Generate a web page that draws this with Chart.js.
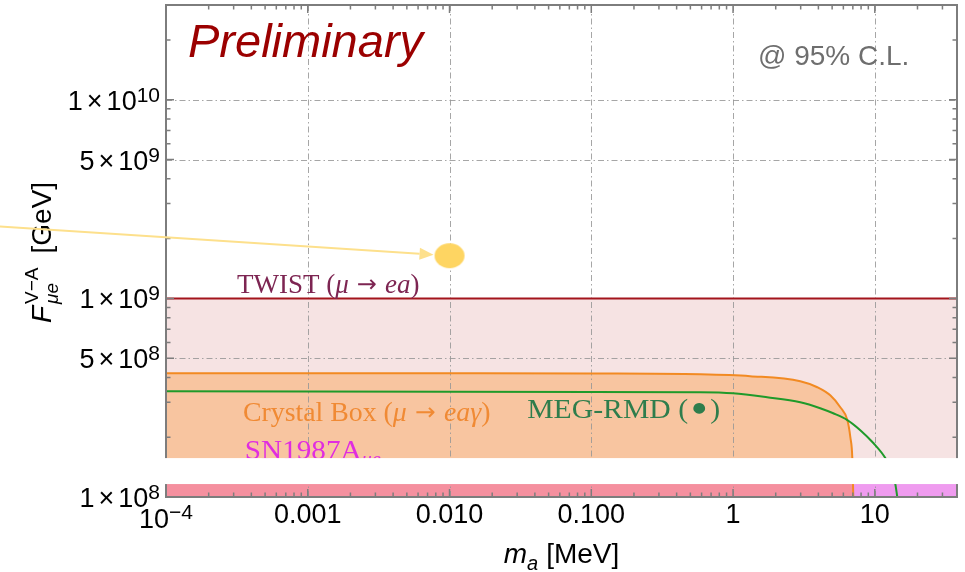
<!DOCTYPE html>
<html>
<head>
<meta charset="utf-8">
<script src="https://cdn.jsdelivr.net/npm/chart.js@4.4.1/dist/chart.umd.min.js"></script>
<style>
  html, body { margin: 0; padding: 0; background: #fff; }
  canvas { display: block; }
</style>
</head>
<body>
<canvas id="c" width="965" height="572"></canvas>
<script>
// Axion mass m_a [MeV] on x, decay constant F_{μe}^{V-A} [GeV] on y
const massRange = [1e-4, 38];
const scaleRange = [1e8, 3e10];

// TWIST (μ → e a) bound
const twistMass = [1e-4, 38];
const twistScale = [1e9, 1e9];

// Crystal Box (μ → e a γ) bound
const crystalMass  = [1e-4, 0.01, 0.1, 0.586, 1.32, 2.98, 3.93, 4.85, 5.71, 6.40, 6.72, 6.94, 7.05];
const crystalScale = [4.2e8, 4.2e8, 4.19e8, 4.15e8, 4.06e8, 3.83e8, 3.57e8, 3.25e8, 2.83e8, 2.44e8, 2.0e8, 1.57e8, 1e8];

// MEG radiative muon decay projection
const megMass  = [1e-4, 0.1, 0.586, 1.0, 1.74, 2.98, 4.12, 5.09, 6.40, 7.90, 9.76, 11.86, 12.8, 13.96, 14.4];
const megScale = [3.41e8, 3.38e8, 3.37e8, 3.33e8, 3.18e8, 3.0e8, 2.8e8, 2.64e8, 2.44e8, 2.17e8, 1.87e8, 1.57e8, 1.40e8, 1.16e8, 1e8];

// SN1987A band (below the crystal-box edge and beyond it)
const snMassInner = [1e-4, 7.05];
const snMassOuter = [7.05, 38];
const snScale = [1.2e8, 1.2e8];

// benchmark point
const benchmarkMass = [0.01];
const benchmarkScale = [1.64e9];

// axis ticks
const xTickValues = [1e-4, 1e-3, 1e-2, 1e-1, 1, 10];
const xTickLabels = [['10', '\u22124'], ['0.001', ''], ['0.010', ''], ['0.100', ''], ['1', ''], ['10', '']];
const yTickValues = [1e8, 5e8, 1e9, 5e9, 1e10];
const yTickMantissa = ['1', '5', '1', '5', '1'];
const yTickExponent = ['8', '8', '9', '9', '10'];

// hidden strip of the broken vertical axis
const axisBreak = [1.162e8, 1.57e8];
// arrow towards the benchmark point, starting left of the axis
const arrowFrom = [6.74e-6, 2.30e9];

// in-plot labels: [mass, scale] of text baseline start
const twistLabelAt = [3.17e-4, 1.07e9];
const crystalLabelAt = [3.49e-4, 2.41e8];
const snLabelAt = [3.6e-4, 1.55e8];
const megLabelAt = [0.0353, 2.49e8];

const pts = (xs, ys) => xs.map((x, i) => ({ x, y: ys[i] }));

const SANS = '"Liberation Sans", Arial, Helvetica, sans-serif';
const SERIF = '"Liberation Serif", "Times New Roman", serif';

// draws a run of differently styled pieces on one baseline; sx stretches horizontally
function rich(ctx, x, y, parts, align, sx) {
  sx = sx || 1;
  let total = 0;
  parts.forEach(p => { ctx.font = p.font; p.w = ctx.measureText(p.t).width; total += p.w + (p.gap || 0); });
  total *= sx;
  let cx = x;
  if (align === 'center') cx = x - total / 2;
  else if (align === 'right') cx = x - total;
  ctx.save();
  ctx.translate(cx, y);
  ctx.scale(sx, 1);
  let ox = 0;
  parts.forEach(p => {
    ctx.font = p.font;
    if (p.color) ctx.fillStyle = p.color;
    ctx.fillText(p.t, ox, p.dy || 0);
    ox += p.w + (p.gap || 0);
  });
  ctx.restore();
  return total;
}

// elliptical marker for the benchmark point
const marker = document.createElement('canvas');
marker.width = 32; marker.height = 27;
(() => {
  const m = marker.getContext('2d');
  m.fillStyle = '#fed562';
  m.beginPath();
  m.ellipse(16, 13.5, 15, 12.5, 0, 0, Math.PI * 2);
  m.fill();
})();

const decorations = {
  id: 'decorations',
  beforeDraw(chart) {
    const c = chart.ctx;
    c.save();
    c.fillStyle = '#fff';
    c.fillRect(0, 0, chart.width, chart.height);
    c.restore();
  },
  beforeDatasetsDraw(chart) {
    // dot-dashed grid over the filled regions
    const c = chart.ctx, a = chart.chartArea, xs = chart.scales.x, ys = chart.scales.y;
    c.save();
    c.strokeStyle = 'rgba(150,150,150,0.85)';
    c.lineWidth = 1;
    c.setLineDash([6, 3, 1.5, 3]);
    xTickValues.forEach(v => {
      const px = Math.round(xs.getPixelForValue(v)) + 0.5;
      if (px <= a.left + 2 || px >= a.right - 2) return;
      c.beginPath(); c.moveTo(px, a.top); c.lineTo(px, a.bottom); c.stroke();
    });
    yTickValues.forEach(v => {
      const py = Math.round(ys.getPixelForValue(v)) + 0.5;
      if (py <= a.top + 2 || py >= a.bottom - 2) return;
      c.beginPath(); c.moveTo(a.left, py); c.lineTo(a.right, py); c.stroke();
    });
    c.restore();
  },
  afterDatasetsDraw(chart) {
    const c = chart.ctx, a = chart.chartArea, xs = chart.scales.x, ys = chart.scales.y;
    c.save();
    // frame
    c.strokeStyle = '#7d7d7d';
    c.lineWidth = 2;
    c.strokeRect(a.left, a.top, a.right - a.left, a.bottom - a.top);
    c.lineWidth = 1.5;
    // x ticks, inward on bottom and top
    for (let d = -4; d <= 1; d++) {
      for (let k = 1; k <= 9; k++) {
        const v = k * Math.pow(10, d);
        if (v < massRange[0] || v > massRange[1]) continue;
        const px = xs.getPixelForValue(v);
        const len = k === 1 ? 8 : 4.5;
        c.beginPath();
        c.moveTo(px, a.bottom); c.lineTo(px, a.bottom - len);
        c.moveTo(px, a.top); c.lineTo(px, a.top + len);
        c.stroke();
      }
    }
    // y ticks, inward on left and right
    for (let d = 8; d <= 10; d++) {
      for (let k = 1; k <= 9; k++) {
        const v = k * Math.pow(10, d);
        if (v < scaleRange[0] || v > scaleRange[1]) continue;
        const py = ys.getPixelForValue(v);
        const len = (k === 1 || k === 5) ? 8 : 4.5;
        c.beginPath();
        c.moveTo(a.left, py); c.lineTo(a.left + len, py);
        c.moveTo(a.right, py); c.lineTo(a.right - len, py);
        c.stroke();
      }
    }
    c.restore();
  },
  afterDraw(chart) {
    const c = chart.ctx, a = chart.chartArea, xs = chart.scales.x, ys = chart.scales.y;
    const P = (v) => [xs.getPixelForValue(v[0]), ys.getPixelForValue(v[1])];
    c.save();
    c.textBaseline = 'alphabetic';

    // y tick labels
    c.fillStyle = '#000';
    yTickValues.forEach((v, i) => {
      const py = ys.getPixelForValue(v);
      rich(c, a.left - 6, py + 10, [
        { t: yTickMantissa[i], font: '27px ' + SANS, gap: 4 },
        { t: '\u00d7', font: '27px ' + SANS, gap: 4 },
        { t: '10', font: '27px ' + SANS },
        { t: yTickExponent[i], font: '21px ' + SANS, dy: -8 }
      ], 'right');
    });

    // x tick labels
    xTickValues.forEach((v, i) => {
      const px = xs.getPixelForValue(v);
      const [base, exp] = xTickLabels[i];
      if (exp) {
        rich(c, px, a.bottom + 31, [
          { t: base, font: '27px ' + SANS },
          { t: exp, font: '21px ' + SANS, dy: -9 }
        ], 'center');
      } else {
        rich(c, px, a.bottom + 26, [{ t: base, font: '27px ' + SANS }], 'center');
      }
    });

    // x axis title
    rich(c, (a.left + a.right) / 2, a.bottom + 66, [
      { t: 'm', font: 'italic 28px ' + SANS },
      { t: 'a', font: 'italic 20px ' + SANS, dy: 7, gap: 8 },
      { t: '[MeV]', font: '28px ' + SANS }
    ], 'center');

    // y axis title, rotated
    c.save();
    c.translate(51, 323);
    c.rotate(-Math.PI / 2);
    c.font = 'italic 28px ' + SANS;
    c.fillText('F', 0, 0);
    const wF = c.measureText('F').width + 2;
    c.font = '19px ' + SANS;
    c.fillText('V\u2212A', wF, -13);
    const wSup = c.measureText('V\u2212A').width;
    c.font = 'italic 19px ' + SANS;
    c.fillText('\u03bce', wF, 7);
    c.font = '28px ' + SANS;
    c.fillText('[GeV]', wF + wSup + 14, 0);
    c.restore();

    // headline notes
    c.fillStyle = '#9b0000';
    c.font = 'italic 47px ' + SANS;
    c.fillText('Preliminary', 188, 57);
    c.fillStyle = '#6e6e6e';
    c.font = '28px ' + SANS;
    c.fillText('@ 95% C.L.', 758, 65);

    // curve labels
    const up = '27px ' + SERIF, it = 'italic 27px ' + SERIF, arrow = '24px "DejaVu Sans", sans-serif';
    let p = P(twistLabelAt);
    c.fillStyle = '#7d2552';
    rich(c, p[0], p[1], [
      { t: 'TWIST (', font: up }, { t: '\u03bc', font: it, gap: 8 }, { t: '\u2192', font: arrow, gap: 8, dy: -1 },
      { t: 'ea', font: it }, { t: ')', font: up }
    ], 'left', 1.0);
    p = P(crystalLabelAt);
    c.fillStyle = '#f08a34';
    rich(c, p[0], p[1], [
      { t: 'Crystal Box (', font: up }, { t: '\u03bc', font: it, gap: 8 }, { t: '\u2192', font: arrow, gap: 8, dy: -1 },
      { t: 'ea\u03b3', font: it }, { t: ')', font: up }
    ], 'left', 1.03);
    p = P(snLabelAt);
    c.fillStyle = '#e02de0';
    rich(c, p[0], p[1], [
      { t: 'SN1987A', font: up }, { t: '\u03bce', font: 'italic 19px ' + SERIF, dy: 6 }
    ], 'left', 1.08);
    p = P(megLabelAt);
    c.fillStyle = '#2f7d4c';
    rich(c, p[0], p[1], [
      { t: 'MEG-RMD (', font: up, gap: 4 }, { t: '\u25cf', font: '14px "DejaVu Sans", sans-serif', dy: -6, gap: 4 }, { t: ')', font: up }
    ], 'left', 1.1);

    // broken-axis strip
    const yb0 = ys.getPixelForValue(axisBreak[1]);
    const yb1 = ys.getPixelForValue(axisBreak[0]);
    c.fillStyle = '#fff';
    c.fillRect(0, yb0, chart.width, yb1 - yb0);

    // arrow to the benchmark point
    const from = P(arrowFrom);
    const to = P([benchmarkMass[0], benchmarkScale[0]]);
    const dx = to[0] - from[0], dy = to[1] - from[1];
    const L = Math.hypot(dx, dy), ux = dx / L, uy = dy / L;
    const tip = [to[0] - ux * 16, to[1] - uy * 16];
    const base = [tip[0] - ux * 14, tip[1] - uy * 14];
    c.strokeStyle = '#fde08c';
    c.fillStyle = '#fde08c';
    c.lineWidth = 2;
    c.beginPath(); c.moveTo(from[0], from[1]); c.lineTo(base[0], base[1]); c.stroke();
    c.beginPath();
    c.moveTo(tip[0], tip[1]);
    c.lineTo(base[0] - uy * 6, base[1] + ux * 6);
    c.lineTo(base[0] + uy * 6, base[1] - ux * 6);
    c.closePath(); c.fill();

    c.restore();
  }
};

new Chart(document.getElementById('c'), {
  type: 'line',
  data: {
    datasets: [
      { label: 'TWIST', data: pts(twistMass, twistScale), borderColor: '#a3151c', borderWidth: 2,
        backgroundColor: '#f6e3e3', fill: 'start', pointRadius: 0, order: 6 },
      { label: 'Crystal Box', data: pts(crystalMass, crystalScale), borderColor: '#f28a22', borderWidth: 2,
        backgroundColor: '#f8c5a0', fill: 'start', pointRadius: 0, cubicInterpolationMode: 'monotone', order: 5 },
      { label: 'SN1987A', data: pts(snMassInner, snScale), borderWidth: 0, borderColor: 'rgba(0,0,0,0)',
        backgroundColor: '#f5909f', fill: 'start', pointRadius: 0, order: 4 },
      { label: 'SN1987A', data: pts(snMassOuter, snScale), borderWidth: 0, borderColor: 'rgba(0,0,0,0)',
        backgroundColor: '#ef9bef', fill: 'start', pointRadius: 0, order: 4 },
      { label: 'MEG-RMD', data: pts(megMass, megScale), borderColor: '#1f9a2a', borderWidth: 2,
        fill: false, pointRadius: 0, cubicInterpolationMode: 'monotone', order: 2 },
      { label: 'benchmark', data: pts(benchmarkMass, benchmarkScale), showLine: false,
        pointStyle: marker, pointRadius: 15, order: 1 }
    ]
  },
  options: {
    responsive: false,
    devicePixelRatio: 1,
    animation: false,
    layout: { autoPadding: false, padding: { left: 166, top: 5, right: 8, bottom: 75 } },
    scales: {
      x: { type: 'logarithmic', min: massRange[0], max: massRange[1], display: false },
      y: { type: 'logarithmic', min: scaleRange[0], max: scaleRange[1], display: false }
    },
    plugins: {
      legend: { display: false },
      tooltip: { enabled: false },
      filler: { drawTime: 'beforeDatasetsDraw' }
    }
  },
  plugins: [decorations]
});
</script>
</body>
</html>
